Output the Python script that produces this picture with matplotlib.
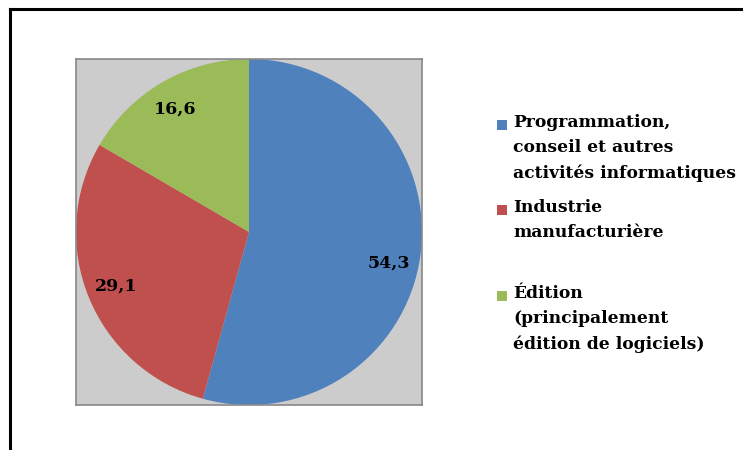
import numpy as np
import matplotlib.pyplot as plt
from matplotlib.patches import Rectangle
from matplotlib.lines import Line2D

# share of each sector (%)
values = [54.3, 29.1, 16.6]
value_labels = ["54,3", "29,1", "16,6"]
categories = [
    "Programmation,\nconseil et autres\nactivités informatiques",
    "Industrie\nmanufacturière",
    "Édition\n(principalement\nédition de logiciels)",
]
colors = ["#4F81BD", "#C0504D", "#9BBB59"]

plt.rcParams['font.family'] = ['DejaVu Serif']

fig = plt.figure(figsize=(7.43, 4.5), dpi=100)
W, H = 743, 450

# frame lines (left and top, the rest is cropped)
fig.add_artist(Line2D([10 / W, 10 / W], [0, 1 - 9 / H], transform=fig.transFigure, color="black", lw=2.2))
fig.add_artist(Line2D([10 / W, 1], [1 - 9 / H, 1 - 9 / H], transform=fig.transFigure, color="black", lw=2.2))

ax = fig.add_axes([76 / W, 45 / H, 346 / W, 346 / H])
ax.set_facecolor("#CCCCCC")
for s in ax.spines.values():
    s.set_color("#888888")
    s.set_linewidth(1.2)

wedges, _ = ax.pie(values, colors=colors, startangle=90, counterclock=False,
                   radius=1.0, wedgeprops=dict(linewidth=0))
ax.set_xlim(-1.0, 1.0)
ax.set_ylim(-1.0, 1.0)
ax.set_aspect("auto")
ax.set_xticks([])
ax.set_yticks([])
ax.set_frame_on(True)

# data labels (excel "best fit" nudges the big one down a bit)
nudge = [-4.7, 0.0, 1.0]
start = 90.0
for v, lab, dn in zip(values, value_labels, nudge):
    ang = start - v / sum(values) * 360 / 2 + dn
    start -= v / sum(values) * 360
    r = 0.83
    ax.text(r * np.cos(np.radians(ang)), r * np.sin(np.radians(ang)), lab,
            ha="center", va="center", fontsize=12.5, fontweight="bold")

# legend drawn by hand
legend_y = [125, 210, 296]
for y, col, txt in zip(legend_y, colors, categories):
    fig.add_artist(Rectangle((497 / W, 1 - (y + 5) / H), 10 / W, 10 / H,
                             transform=fig.transFigure, facecolor=col, edgecolor="none"))
    fig.text(513 / W, 1 - (y - 11) / H, txt, ha="left", va="top", fontsize=12.3,
             fontweight="bold", linespacing=1.63)

fig.savefig("out.png", dpi=100)
